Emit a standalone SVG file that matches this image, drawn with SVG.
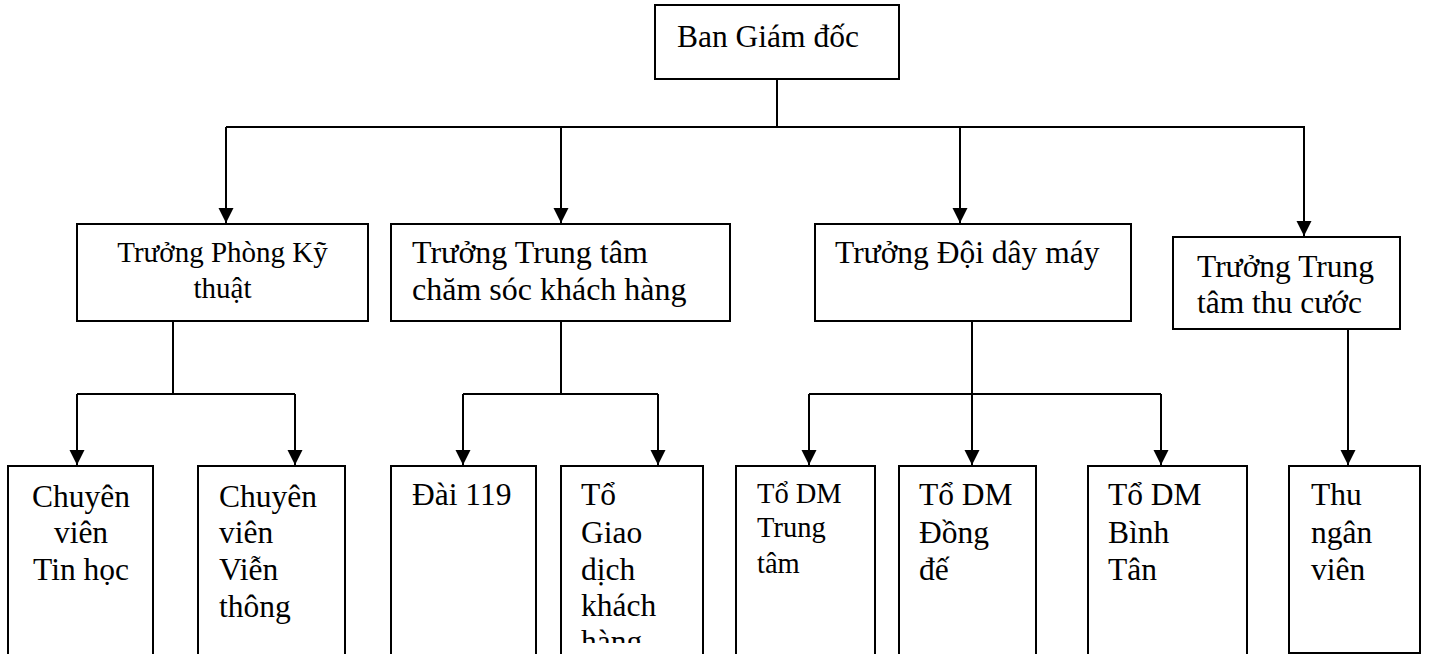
<svg xmlns="http://www.w3.org/2000/svg" width="1429" height="654" viewBox="0 0 1429 654">
<style>
.box{fill:#fff;stroke:#000;stroke-width:2}
.t{font-family:"Liberation Serif","Times New Roman",serif;font-size:31.5px;fill:#000}
.s{font-size:28.5px}
.m{font-size:29px}
.c{text-anchor:middle}
.ln{fill:none;stroke:#000;stroke-width:2}
.ar{fill:none;stroke:#000;stroke-width:2;marker-end:url(#arr)}
</style>
<defs>
<marker id="arr" markerUnits="userSpaceOnUse" markerWidth="16" markerHeight="16" refX="15" refY="7.5" orient="auto">
<path d="M0,0 L15,7.5 L0,15 z" fill="#000"/>
</marker>
<clipPath id="clipG"><rect x="561" y="466" width="142" height="177"/></clipPath>
</defs>
<rect width="1429" height="654" fill="#fff"/>

<g id="connectors">
<path class="ln" d="M777,79 V127 M226,127 H1305"/>
<path class="ar" d="M226,127 V223"/>
<path class="ar" d="M561,127 V223"/>
<path class="ar" d="M960,127 V223"/>
<path class="ar" d="M1304,127 V236"/>
<path class="ln" d="M173,321 V394 M77,394 H295"/>
<path class="ar" d="M77,394 V465"/>
<path class="ar" d="M295,394 V465"/>
<path class="ln" d="M561,321 V394 M463,394 H658"/>
<path class="ar" d="M463,394 V465"/>
<path class="ar" d="M658,394 V465"/>
<path class="ln" d="M809,394 H1161"/>
<path class="ar" d="M809,394 V465"/>
<path class="ar" d="M972,321 V465"/>
<path class="ar" d="M1161,394 V465"/>
<path class="ar" d="M1348,329 V465"/>
</g>

<g id="ban-giam-doc">
<rect class="box" x="655" y="5" width="244" height="74"/>
<text class="t" x="677" y="47">Ban Giám đốc</text>
</g>

<g id="truong-phong-ky-thuat">
<rect class="box" x="77" y="224" width="291" height="97"/>
<text class="t m c" x="222.5" y="262">Trưởng Phòng Kỹ</text>
<text class="t m c" x="222.5" y="298">thuật</text>
</g>

<g id="truong-trung-tam-cskh">
<rect class="box" x="391" y="224" width="339" height="97"/>
<text class="t" x="412" y="263" style="font-size:32px">Trưởng Trung tâm</text>
<text class="t" x="412" y="300" style="font-size:32px">chăm sóc khách hàng</text>
</g>

<g id="truong-doi-day-may">
<rect class="box" x="815" y="224" width="316" height="97"/>
<text class="t" x="835" y="263">Trưởng Đội dây máy</text>
</g>

<g id="truong-trung-tam-thu-cuoc">
<rect class="box" x="1173" y="237" width="227" height="92"/>
<text class="t" x="1197" y="277">Trưởng Trung</text>
<text class="t" x="1197" y="313">tâm thu cước</text>
</g>

<g id="chuyen-vien-tin-hoc">
<rect class="box" x="8" y="466" width="145" height="200"/>
<text class="t c" x="81" y="507">Chuyên</text>
<text class="t c" x="81" y="543">viên</text>
<text class="t c" x="81" y="580">Tin học</text>
</g>

<g id="chuyen-vien-vien-thong">
<rect class="box" x="198" y="466" width="147" height="200"/>
<text class="t" x="219" y="507">Chuyên</text>
<text class="t" x="219" y="543">viên</text>
<text class="t" x="219" y="580">Viễn</text>
<text class="t" x="219" y="617">thông</text>
</g>

<g id="dai-119">
<rect class="box" x="391" y="466" width="145" height="200"/>
<text class="t" x="412" y="505">Đài 119</text>
</g>

<g id="to-giao-dich">
<rect class="box" x="561" y="466" width="142" height="200"/>
<g clip-path="url(#clipG)">
<text class="t" x="581" y="505">Tổ</text>
<text class="t" x="581" y="543">Giao</text>
<text class="t" x="581" y="580">dịch</text>
<text class="t" x="581" y="616">khách</text>
<text class="t" x="581" y="652">hàng</text>
</g>
</g>

<g id="to-dm-trung-tam">
<rect class="box" x="736" y="466" width="139" height="200"/>
<text class="t s" x="757" y="503">Tổ DM</text>
<text class="t s" x="757" y="537">Trung</text>
<text class="t s" x="757" y="573">tâm</text>
</g>

<g id="to-dm-dong-de">
<rect class="box" x="899" y="466" width="137" height="200"/>
<text class="t" x="919" y="505">Tổ DM</text>
<text class="t" x="919" y="543">Đồng</text>
<text class="t" x="919" y="580">đế</text>
</g>

<g id="to-dm-binh-tan">
<rect class="box" x="1088" y="466" width="159" height="200"/>
<text class="t" x="1108" y="505">Tổ DM</text>
<text class="t" x="1108" y="543">Bình</text>
<text class="t" x="1108" y="580">Tân</text>
</g>

<g id="thu-ngan-vien">
<rect class="box" x="1289" y="466" width="131" height="187"/>
<text class="t" x="1311" y="505">Thu</text>
<text class="t" x="1311" y="543">ngân</text>
<text class="t" x="1311" y="580">viên</text>
</g>
</svg>
